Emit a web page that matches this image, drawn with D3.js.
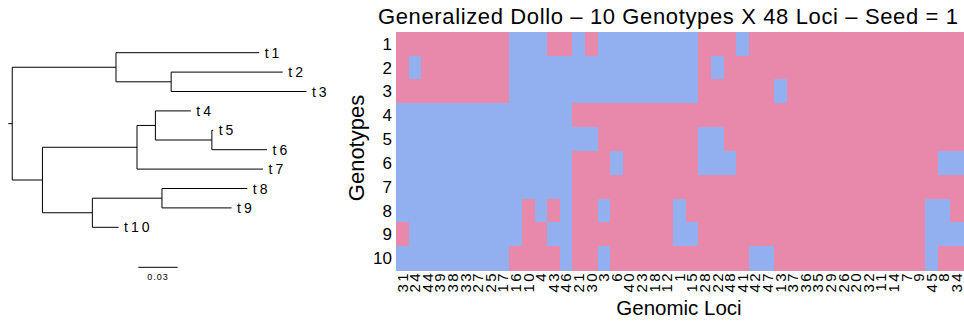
<!DOCTYPE html>
<html>
<head>
<meta charset="utf-8">
<script src="https://cdn.jsdelivr.net/npm/d3@7"></script>
<style>
  html, body { margin: 0; padding: 0; background: #fff; }
  svg { display: block; font-family: "Liberation Sans", Arial, Helvetica, sans-serif; }
</style>
</head>
<body>
<svg id="chart" width="964" height="322"></svg>
<script>
// ---- Phylogeny: tips listed top to bottom ----
const tipOrder = ["t1", "t2", "t3", "t4", "t5", "t6", "t7", "t8", "t9", "t10"];
// every node, its parent and the length of the branch leading to it
const treeNodes     = ["root", "n1", "n23", "t1", "t2", "t3", "n2", "n47", "n456", "n56", "t4", "t5", "t6", "t7", "n810", "n89", "t8", "t9", "t10"];
const treeParents   = [null, "root", "n1", "n1", "n23", "n23", "root", "n2", "n47", "n456", "n456", "n56", "n56", "n47", "n2", "n810", "n89", "n89", "n810"];
const branchLengths = [0.003, 0.079, 0.042, 0.109, 0.085, 0.103, 0.023, 0.072, 0.014, 0.043, 0.027, 0.001, 0.042, 0.096, 0.038, 0.053, 0.065, 0.053, 0.020];
const scaleBarLength = 0.03;

// ---- Heatmap: genotypes x loci (1 = mutated, 0 = not) ----
const titleText = "Generalized Dollo \u2013 10 Genotypes X 48 Loci \u2013 Seed = 1";
const genotypes = ["1", "2", "3", "4", "5", "6", "7", "8", "9", "10"];
const lociLabels = ["31", "24", "44", "39", "38", "33", "27", "25", "17", "16", "10", "4", "43", "46", "21",
                    "30", "3", "6", "40", "23", "18", "12", "1", "15", "28", "22", "48", "41", "42", "47",
                    "13", "37", "36", "35", "29", "26", "20", "32", "11", "14", "7", "9", "45", "8", "34"];
const lociStates = [
  "111111111000110100000000111011111111111111111",
  "101111111000000000000000101111111111111111111",
  "111111111000000000000000111111011111111111111",
  "000000000000001111111111111111111111111111111",
  "000000000000000011111111001111111111111111111",
  "000000000000001110111111000111111111111111100",
  "000000000000001111111111111111111111111111111",
  "000000000010101101111101111111111111111111001",
  "100000000011001111111100111111111111111111000",
  "000000000111101101111111111100111111111111011"
];
const stateColors = ["#92B0F0", "#E889AC"];

const svg = d3.select("#chart");

// ================= Tree =================
const parentOf = new Map(treeNodes.map((n, i) => [n, treeParents[i]]));
const lengthOf = new Map(treeNodes.map((n, i) => [n, branchLengths[i]]));
const childrenOf = new Map(treeNodes.map(n => [n, []]));
treeNodes.forEach((n, i) => { if (treeParents[i]) childrenOf.get(treeParents[i]).push(n); });

const depthOf = new Map();
(function setDepth(n, d) {
  depthOf.set(n, d);
  childrenOf.get(n).forEach(c => setDepth(c, d + lengthOf.get(c)));
})("root", lengthOf.get("root"));

const xTree = d3.scaleLinear().domain([0, scaleBarLength]).range([8.3, 47.7]);
const yTree = d3.scalePoint().domain(tipOrder).range([52.7, 227.3]);

const yOf = new Map();
(function setY(n) {
  const ch = childrenOf.get(n);
  if (!ch.length) yOf.set(n, yTree(n));
  else { ch.forEach(setY); yOf.set(n, d3.mean(ch, c => yOf.get(c))); }
})("root");

const tree = svg.append("g").attr("stroke", "#000").attr("stroke-width", 1).attr("fill", "none");

// horizontal branches
tree.selectAll("line.branch")
  .data(treeNodes)
  .join("line")
  .attr("class", "branch")
  .attr("x1", n => xTree(parentOf.get(n) ? depthOf.get(parentOf.get(n)) : 0))
  .attr("x2", n => xTree(depthOf.get(n)))
  .attr("y1", n => yOf.get(n))
  .attr("y2", n => yOf.get(n));

// vertical connectors at internal nodes
const internal = treeNodes.filter(n => childrenOf.get(n).length);
tree.selectAll("line.connector")
  .data(internal)
  .join("line")
  .attr("class", "connector")
  .attr("x1", n => xTree(depthOf.get(n)))
  .attr("x2", n => xTree(depthOf.get(n)))
  .attr("y1", n => d3.min(childrenOf.get(n), c => yOf.get(c)))
  .attr("y2", n => d3.max(childrenOf.get(n), c => yOf.get(c)));

// tip labels
svg.append("g")
  .selectAll("text")
  .data(tipOrder)
  .join("text")
  .attr("x", t => xTree(depthOf.get(t)) + 5.5)
  .attr("y", t => yOf.get(t))
  .attr("dy", "0.36em")
  .attr("font-size", 14)
  .attr("letter-spacing", 3)
  .attr("fill", "#000")
  .text(t => t);

// scale bar
const barX = 138.3, barY = 267.3;
const barW = xTree(scaleBarLength) - xTree(0);
svg.append("line")
  .attr("x1", barX).attr("x2", barX + barW)
  .attr("y1", barY).attr("y2", barY)
  .attr("stroke", "#000").attr("stroke-width", 1);
svg.append("text")
  .attr("x", barX + barW / 2).attr("y", barY + 12.5)
  .attr("text-anchor", "middle")
  .attr("font-size", 9)
  .attr("letter-spacing", 1)
  .attr("fill", "#000")
  .text(d3.format(".2f")(scaleBarLength));

// ================= Heatmap =================
const xHeat = d3.scaleBand().domain(lociLabels).range([396, 963]);
const yHeat = d3.scaleBand().domain(genotypes).range([31.7, 270]);

const cells = [];
genotypes.forEach((g, r) => {
  lociLabels.forEach((l, c) => cells.push({ g, l, v: +lociStates[r][c] }));
});

svg.append("g")
  .attr("shape-rendering", "crispEdges")
  .selectAll("rect")
  .data(cells)
  .join("rect")
  .attr("x", d => xHeat(d.l))
  .attr("y", d => yHeat(d.g))
  .attr("width", xHeat.bandwidth() + 0.5)
  .attr("height", yHeat.bandwidth() + 0.5)
  .attr("fill", d => stateColors[d.v]);

// genotype axis
const yAxis = svg.append("g")
  .attr("transform", "translate(392,0)")
  .call(d3.axisLeft(yHeat).tickSize(0).tickPadding(0));
yAxis.select(".domain").remove();
yAxis.selectAll("text")
  .attr("font-size", 17)
  .attr("font-family", "Liberation Sans, Arial, sans-serif")
  .attr("fill", "#000")
  .attr("dy", "0.36em");

// loci axis (vertical labels)
const xAxis = svg.append("g")
  .attr("transform", "translate(0,271)")
  .call(d3.axisBottom(xHeat).tickSize(0).tickPadding(0));
xAxis.select(".domain").remove();
xAxis.selectAll("text")
  .attr("font-size", 15)
  .attr("font-family", "Liberation Sans, Arial, sans-serif")
  .attr("letter-spacing", 2.4)
  .attr("fill", "#000")
  .attr("text-anchor", "end")
  .attr("x", 0).attr("y", 0).attr("dy", 0)
  .attr("transform", "translate(5.3,0) rotate(-90)");

// titles
svg.append("text")
  .attr("x", 668).attr("y", 24)
  .attr("text-anchor", "middle")
  .attr("font-size", 22)
  .attr("textLength", 580)
  .attr("lengthAdjust", "spacing")
  .attr("fill", "#000")
  .text(titleText);

svg.append("text")
  .attr("x", 679).attr("y", 315)
  .attr("text-anchor", "middle")
  .attr("font-size", 20.5)
  .attr("fill", "#000")
  .text("Genomic Loci");

svg.append("text")
  .attr("transform", "translate(364,148) rotate(-90)")
  .attr("text-anchor", "middle")
  .attr("font-size", 22)
  .attr("fill", "#000")
  .text("Genotypes");
</script>
</body>
</html>
